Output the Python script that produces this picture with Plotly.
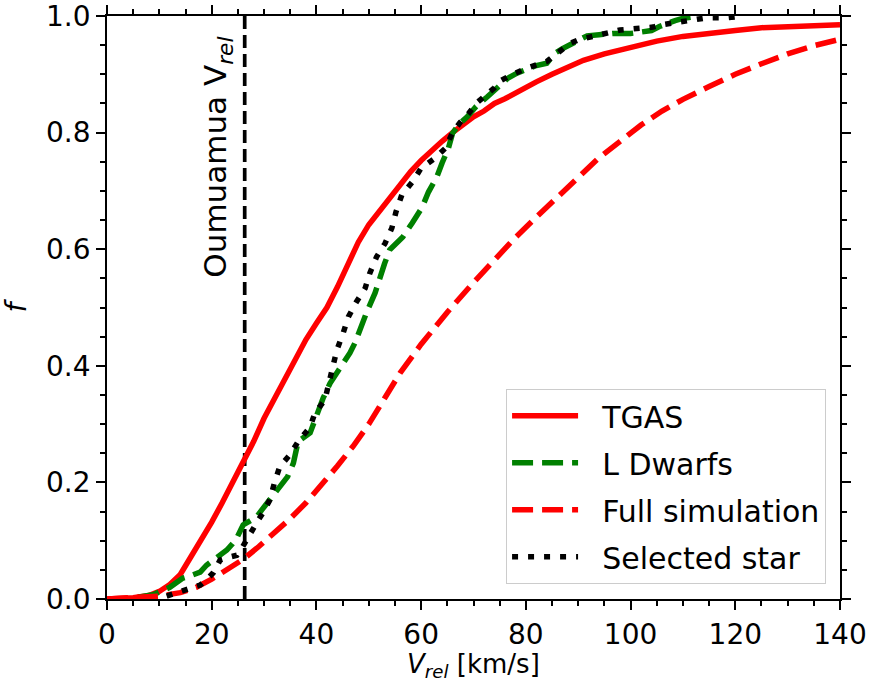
import plotly.graph_objects as go

# ---- data ----
tgas_x = [0, 5, 8, 10, 12, 14, 16, 18, 20, 22, 24, 26, 28, 30, 32, 34, 36, 38, 40, 42, 44, 46, 48, 50,
          52, 54, 56, 58, 60, 62, 64, 66, 68, 70, 72, 74, 76, 78, 80, 82, 85, 88, 91, 95, 98, 100,
          105, 110, 115, 120, 125, 130, 135, 140]
tgas_f = [0, 0.002, 0.006, 0.013, 0.025, 0.042, 0.072, 0.10, 0.132, 0.165, 0.20, 0.233, 0.27, 0.31,
          0.345, 0.38, 0.415, 0.445, 0.473, 0.50, 0.535, 0.575, 0.612, 0.642, 0.665, 0.688, 0.71, 0.733,
          0.752, 0.77, 0.785, 0.80, 0.815, 0.827, 0.837, 0.85, 0.858, 0.868, 0.878, 0.887, 0.90,
          0.913, 0.924, 0.935, 0.942, 0.947, 0.957, 0.965, 0.971, 0.975, 0.980, 0.981, 0.983, 0.985]

ldw_x = [6, 9, 12, 13.5, 14.5, 16, 17.8, 19, 20.3, 21.5, 22.9, 24, 24.8, 26, 27.3, 28.6, 29.5, 30.5,
         31.8, 33, 34.5, 35.6, 36.5, 38.8, 40.1, 41.3, 42.6, 43.9, 45.2, 46.4, 47.4, 48.7, 49.6, 51.2,
         52.1, 53, 54, 55.3, 56.5, 58.3, 60.2, 61.4, 63, 64, 65.2, 66, 67.3, 68.8, 70.5, 72.6, 74, 75,
         76.5, 78.3, 80.2, 82, 84, 84.8, 85.5, 87, 88.4, 89.5, 91.7, 94, 96.6, 100, 102.4, 104, 105.5,
         107, 108.5, 110, 111.5, 113]
ldw_f = [0.003, 0.008, 0.02, 0.03, 0.036, 0.04, 0.046, 0.058, 0.067, 0.075, 0.084, 0.095, 0.105,
         0.127, 0.135, 0.141, 0.152, 0.164, 0.178, 0.192, 0.21, 0.233, 0.27, 0.285, 0.319, 0.345,
         0.37, 0.388, 0.405, 0.422, 0.44, 0.473, 0.492, 0.525, 0.553, 0.575, 0.599, 0.61, 0.621,
         0.645, 0.672, 0.698, 0.724, 0.748, 0.773, 0.799, 0.815, 0.827, 0.845, 0.861, 0.873, 0.882,
         0.893, 0.902, 0.91, 0.915, 0.919, 0.93, 0.936, 0.944, 0.95, 0.957, 0.966, 0.968, 0.97,
         0.97, 0.972, 0.975, 0.982, 0.988, 0.992, 0.996, 0.999, 1.0]

sim_x = [0, 5, 10, 14, 17, 20, 23, 26, 29, 32, 35, 38, 41, 44, 47, 50, 53, 56, 60, 65, 70, 74, 78,
         82, 86, 90, 94, 98, 102, 106, 110, 115, 120, 125, 130, 135, 140]
sim_f = [0, 0.0015, 0.005, 0.011, 0.02, 0.034, 0.05, 0.068, 0.09, 0.113, 0.138, 0.165, 0.195, 0.228,
         0.262, 0.30, 0.344, 0.388, 0.437, 0.492, 0.543, 0.583, 0.62, 0.655, 0.69, 0.723, 0.757,
         0.785, 0.813, 0.837, 0.857, 0.879, 0.90, 0.918, 0.935, 0.949, 0.96]

sel_x = [11.4, 13, 15.2, 16.5, 17.8, 19, 20.3, 21, 21.6, 23, 24.8, 25.6, 26.4, 27.2, 27.9, 29, 29.8,
         31.1, 32, 33, 34.9, 36.5, 38.8, 39.7, 41.6, 42.4, 43.2, 43.9, 45.1, 46.1, 47.6, 49.3, 50.2,
         51.5, 53.1, 54.4, 55.2, 56.3, 58.3, 60, 62.6, 64.6, 66, 67.5, 69, 70.5, 72.6, 74,
         75, 77, 80, 82, 84, 86, 88.4, 90, 92.2, 95, 98, 101.8, 104.3, 106, 108, 111.4, 114.6,
         118.4, 121.5]
sel_f = [0.005, 0.01, 0.015, 0.02, 0.024, 0.033, 0.045, 0.056, 0.067, 0.071, 0.075, 0.085, 0.098,
         0.11, 0.124, 0.137, 0.148, 0.17, 0.2, 0.227, 0.247, 0.27, 0.295, 0.319, 0.341, 0.37, 0.398,
         0.427, 0.456, 0.484, 0.509, 0.533, 0.559, 0.587, 0.61, 0.636, 0.664, 0.693, 0.715, 0.739,
         0.756, 0.773, 0.80, 0.818, 0.832, 0.85, 0.866, 0.877, 0.888, 0.898, 0.91,
         0.916, 0.922, 0.936, 0.953, 0.959, 0.964, 0.97, 0.976, 0.979, 0.981, 0.985, 0.988, 0.993,
         0.997, 0.997, 1.0]

series_names = ["TGAS", "L Dwarfs", "Full simulation", "Selected star"]

oumuamua_v = 26.3
vline_y = [0, 1]

FONT = "DejaVu Sans"
LW = 5.5
PAD = "\u00a0\u00a0"

fig = go.Figure()
fig.add_trace(go.Scatter(x=[oumuamua_v, oumuamua_v], y=vline_y, mode="lines", showlegend=False,
                         line=dict(color="black", width=3.7, dash="13px,6px"), hoverinfo="skip"))
fig.add_trace(go.Scatter(x=tgas_x, y=tgas_f, mode="lines", name=PAD + series_names[0], legendgroup="a",
                         line=dict(color="#ff0000", width=LW)))
fig.add_trace(go.Scatter(x=ldw_x, y=ldw_f, mode="lines", name=PAD + series_names[1], legendgroup="b",
                         line=dict(color="#008000", width=LW, dash="21px,9px")))
fig.add_trace(go.Scatter(x=sim_x, y=sim_f, mode="lines", name=PAD + series_names[2], legendgroup="c",
                         line=dict(color="#ff0000", width=LW, dash="21px,9px")))
fig.add_trace(go.Scatter(x=sel_x, y=sel_f, mode="lines", name=PAD + series_names[3], legendgroup="d",
                         line=dict(color="black", width=LW, dash="6px,10px")))

axis_common = dict(showline=True, linecolor="black", linewidth=1.8, mirror="ticks",
                   ticks="outside", ticklen=9, tickwidth=1.8, tickcolor="black",
                   showgrid=False, zeroline=False, automargin=False, ticklabeloverflow="allow",
                   tickfont=dict(family=FONT, size=28, color="black"))

fig.update_xaxes(range=[0, 140], tickvals=[0, 20, 40, 60, 80, 100, 120, 140],
                 minor=dict(dtick=5, ticks="outside", ticklen=5, tickwidth=1.5, tickcolor="black"),
                 **axis_common)
fig.update_yaxes(range=[0, 1], tickvals=[0, 0.2, 0.4, 0.6, 0.8, 1.0], tickformat=".1f",
                 minor=dict(dtick=0.05, ticks="outside", ticklen=5, tickwidth=1.5, tickcolor="black"),
                 title=dict(text="<i>f</i>", font=dict(family=FONT, size=28, color="black"), standoff=18),
                 **axis_common)

# x-axis title
fig.add_annotation(x=0.5, y=-0.1455, xref="paper", yref="paper",
                   text="<i>V</i><sub><i>rel</i></sub> [km/s]", showarrow=False,
                   xanchor="center", yanchor="bottom",
                   font=dict(family=FONT, size=26, color="black"))

fig.add_annotation(x=21.2, y=0.757, xref="x", yref="y", text="Oumuamua V<sub><i>rel</i></sub>",
                   textangle=-90, showarrow=False, xanchor="center", yanchor="middle",
                   font=dict(family=FONT, size=31, color="black"))

fig.update_layout(
    width=875, height=684,
    margin=dict(l=107, r=35, t=16, b=85),
    paper_bgcolor="white", plot_bgcolor="white",
    font=dict(family=FONT, color="black"),
    legend=dict(x=0.981, y=0.026, xanchor="right", yanchor="bottom",
                bgcolor="white", bordercolor="#cccccc", borderwidth=1,
                font=dict(family=FONT, size=30, color="black"), itemwidth=66,
                tracegroupgap=5),
)

fig.write_html("out.html")
